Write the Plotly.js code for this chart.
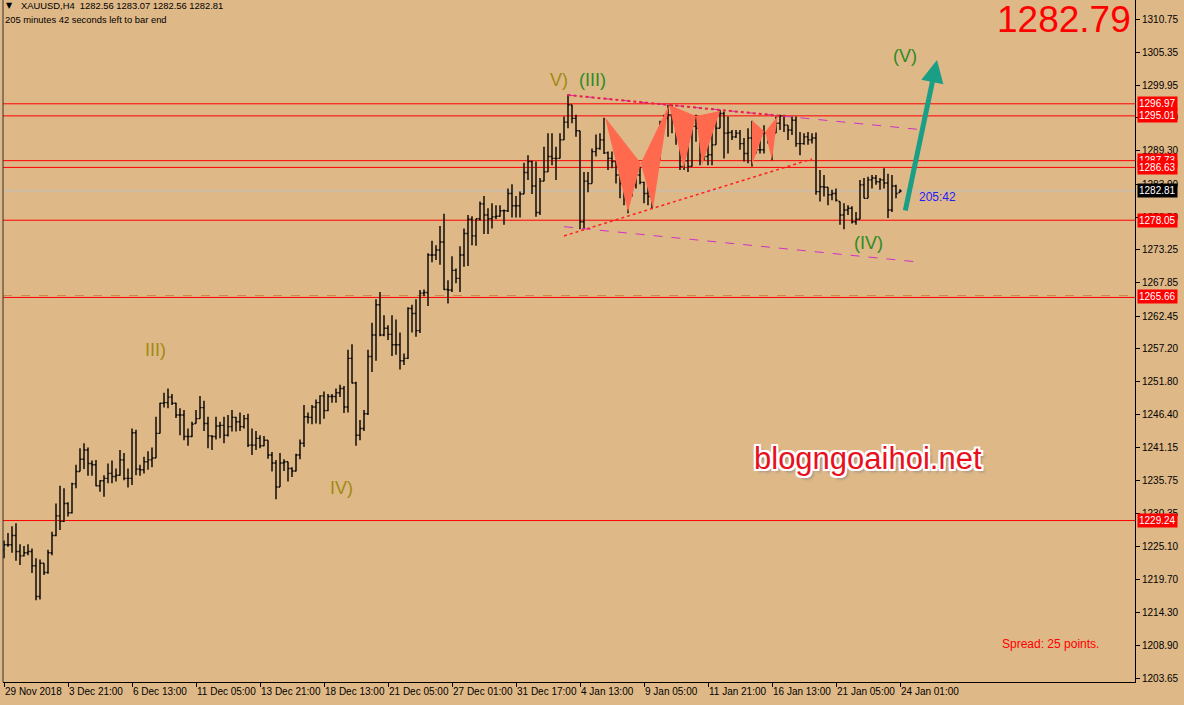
<!DOCTYPE html>
<html>
<head>
<meta charset="utf-8">
<script src="https://cdn.plot.ly/plotly-3.0.1.min.js"></script>
<style>html,body{margin:0;padding:0;background:#DEB887;}#chart{width:1184px;height:705px;}</style>
</head>
<body>
<div id="chart"></div>
<script>
// ---- OHLC data, XAUUSD H4 (bar 0 = 29 Nov 2018 05:00, last bar = 24 Jan 01:00) ----
const opens = [
1224.5,1225.3,1225.3,1226.8,1224.2,1223.5,1224.0,1224.2,1221.9,1216.9,
1222.3,1220.8,1224.0,1226.8,1230.0,1229.1,1232.0,1230.5,1235.2,1237.2,
1239.2,1240.7,1238.5,1238.3,1234.9,1235.7,1236.1,1236.9,1236.4,1236.6,
1239.1,1236.1,1236.1,1243.5,1237.6,1237.5,1238.8,1239.1,1239.4,1243.4,
1248.3,1248.4,1249.3,1248.3,1246.4,1246.4,1242.9,1242.9,1245.0,1245.8,
1247.6,1245.0,1243.0,1242.9,1244.6,1244.7,1243.1,1244.5,1246.0,1245.3,
1244.5,1245.8,1241.5,1241.5,1242.6,1241.4,1242.3,1239.9,1238.6,1234.7,
1238.6,1238.8,1237.7,1237.3,1239.9,1241.8,1246.1,1246.0,1247.7,1248.4,
1249.5,1247.1,1249.4,1249.4,1250.0,1250.7,1247.7,1255.6,1251.6,1243.1,
1244.2,1246.6,1255.9,1259.4,1264.3,1259.4,1260.5,1259.5,1257.8,1257.8,
1255.2,1255.6,1263.7,1262.9,1260.1,1266.2,1266.3,1272.4,1272.4,1273.2,
1274.5,1266.8,1266.7,1269.9,1268.6,1272.4,1275.9,1278.2,1275.5,1278.3,
1280.7,1278.9,1278.3,1278.6,1278.7,1279.6,1279.6,1282.4,1280.4,1280.4,
1282.3,1285.8,1287.6,1283.6,1279.3,1284.4,1285.9,1288.4,1288.1,1288.1,
1291.1,1294.0,1296.8,1294.6,1292.6,1277.8,1284.4,1284.0,1289.2,1289.7,
1291.1,1289.0,1288.1,1287.6,1285.4,1284.0,1282.8,1283.9,1283.8,1285.4,
1284.2,1282.4,1281.9,1288.5,1288.7,1293.8,1294.6,1295.2,1294.9,1293.0,
1286.8,1287.7,1286.8,1293.3,1293.0,1288.7,1288.4,1288.7,1290.3,1293.0,
1295.4,1292.2,1292.3,1291.6,1292.2,1290.5,1288.9,1291.4,1291.5,1289.5,
1289.5,1292.2,1291.5,1292.2,1293.8,1295.0,1293.5,1292.7,1294.3,1290.5,
1290.5,1291.6,1291.1,1291.4,1282.7,1283.5,1283.4,1282.2,1282.4,1281.1,
1278.9,1279.7,1280.0,1277.8,1278.2,1283.8,1281.6,1284.6,1284.9,1284.3,
1284.6,1284.1,1279.7,1283.6,1282.56];
const highs = [
1226.0,1227.2,1228.3,1228.8,1225.4,1225.1,1225.4,1224.7,1223.1,1222.9,
1222.3,1224.5,1227.4,1232.0,1234.9,1234.5,1232.2,1235.4,1238.3,1241.0,
1241.8,1241.1,1239.0,1239.1,1235.8,1236.6,1238.5,1239.0,1237.7,1240.7,
1240.2,1237.7,1244.2,1244.0,1238.3,1239.6,1240.5,1241.1,1246.1,1248.4,
1250.0,1250.7,1249.8,1248.4,1247.5,1247.2,1244.2,1245.3,1247.2,1249.5,
1248.7,1246.1,1243.1,1246.1,1245.3,1246.1,1246.4,1247.2,1246.1,1246.8,
1246.4,1246.6,1244.2,1243.8,1243.1,1243.0,1242.3,1240.4,1239.1,1240.2,
1239.2,1238.8,1237.9,1240.1,1242.4,1248.0,1246.8,1248.0,1248.9,1249.6,
1250.2,1249.8,1249.8,1250.7,1251.3,1251.1,1257.0,1257.9,1251.8,1245.6,
1247.2,1257.0,1261.4,1265.2,1266.4,1262.6,1261.0,1262.6,1261.9,1259.8,
1256.4,1263.9,1264.3,1265.2,1266.7,1266.8,1272.7,1274.7,1274.0,1277.1,
1279.1,1268.3,1272.2,1270.2,1273.8,1276.7,1278.9,1278.7,1278.3,1281.1,
1282.0,1280.0,1280.8,1280.5,1280.5,1279.8,1283.2,1283.9,1282.0,1282.7,
1287.4,1288.6,1287.7,1287.6,1284.9,1290.0,1292.2,1292.2,1290.0,1292.2,
1294.9,1298.5,1296.8,1295.2,1292.6,1285.9,1285.9,1289.7,1292.0,1292.2,
1294.7,1289.2,1289.2,1287.6,1285.7,1284.0,1286.0,1285.9,1285.8,1286.8,
1284.3,1283.8,1289.2,1291.4,1294.2,1295.2,1296.8,1296.8,1295.2,1293.5,
1290.8,1291.1,1294.6,1295.2,1293.0,1290.3,1290.8,1294.1,1295.2,1296.0,
1295.7,1294.9,1292.7,1292.7,1292.7,1291.4,1293.0,1294.2,1292.2,1291.6,
1293.5,1292.7,1293.0,1294.9,1295.2,1295.2,1293.5,1294.9,1294.9,1292.4,
1292.2,1292.4,1292.2,1292.3,1286.2,1285.4,1283.4,1283.0,1283.2,1281.1,
1280.8,1280.5,1280.3,1279.4,1284.6,1284.9,1285.1,1285.4,1285.4,1284.9,
1286.5,1285.6,1285.4,1283.8,1283.07];
const lows = [
1223.1,1225.0,1224.0,1222.7,1222.0,1223.4,1223.6,1220.7,1216.3,1216.4,
1220.4,1220.6,1223.6,1226.7,1227.7,1229.0,1229.9,1230.4,1234.5,1237.2,
1237.6,1236.5,1236.5,1234.8,1233.9,1233.1,1235.3,1235.3,1235.6,1236.5,
1235.8,1234.6,1235.0,1236.6,1236.5,1236.9,1237.5,1237.9,1239.4,1243.4,
1247.6,1247.5,1248.0,1245.9,1243.1,1242.3,1241.4,1242.8,1245.0,1245.8,
1243.8,1241.0,1240.7,1242.4,1242.6,1241.8,1242.9,1243.7,1243.7,1243.8,
1244.2,1241.2,1239.9,1240.7,1241.0,1241.3,1239.3,1237.2,1232.7,1234.7,
1237.3,1235.6,1236.3,1237.2,1239.2,1241.2,1245.0,1244.9,1245.0,1244.9,
1245.8,1247.0,1248.4,1248.4,1249.3,1246.7,1246.8,1251.5,1241.4,1242.3,
1243.8,1246.4,1253.4,1255.2,1259.2,1259.2,1258.6,1256.0,1256.2,1253.8,
1254.5,1255.5,1259.8,1259.1,1259.7,1265.7,1264.1,1271.2,1271.6,1270.8,
1266.7,1264.5,1266.4,1267.8,1266.4,1270.5,1270.6,1274.0,1273.9,1278.0,
1275.8,1275.8,1276.7,1278.2,1278.6,1277.3,1279.4,1278.5,1278.5,1278.5,
1282.3,1284.6,1282.3,1278.6,1278.9,1284.4,1285.9,1287.0,1284.6,1288.1,
1291.1,1293.0,1293.8,1291.6,1276.6,1276.6,1282.6,1284.0,1288.4,1289.5,
1288.8,1286.2,1286.5,1284.0,1281.6,1280.5,1279.2,1281.9,1283.2,1283.9,
1280.8,1280.5,1279.9,1285.4,1287.8,1293.3,1291.6,1292.2,1290.3,1286.2,
1286.2,1285.9,1286.8,1290.8,1287.0,1287.8,1287.0,1287.0,1290.3,1293.0,
1288.1,1288.9,1291.1,1291.4,1289.5,1287.6,1287.3,1286.8,1288.9,1288.9,
1288.9,1290.5,1287.8,1292.2,1292.7,1292.4,1291.1,1291.9,1290.0,1288.6,
1290.3,1290.3,1290.5,1282.2,1281.1,1281.9,1280.5,1281.3,1281.1,1277.3,
1276.6,1278.9,1277.5,1277.3,1278.2,1281.6,1281.6,1283.2,1283.8,1283.0,
1283.2,1278.4,1279.4,1281.6,1282.56];
const closes = [
1225.3,1225.3,1226.8,1224.2,1223.5,1224.0,1224.2,1221.9,1216.9,1222.3,
1220.8,1224.0,1226.8,1230.0,1229.1,1232.0,1230.5,1235.2,1237.2,1239.2,
1240.7,1238.5,1238.3,1234.9,1235.7,1236.1,1236.9,1236.4,1236.6,1239.1,
1236.1,1236.1,1243.5,1237.6,1237.5,1238.8,1239.1,1239.4,1243.4,1248.3,
1248.4,1249.3,1248.3,1246.4,1246.4,1242.9,1242.9,1244.9,1245.8,1247.6,
1245.0,1243.0,1242.9,1244.6,1244.7,1243.1,1244.5,1246.0,1245.3,1244.5,
1245.8,1241.5,1241.5,1242.6,1241.4,1242.3,1239.9,1238.6,1234.7,1238.6,
1238.8,1237.7,1237.3,1239.9,1241.8,1246.1,1246.0,1247.7,1248.4,1249.5,
1247.1,1249.4,1249.4,1250.0,1250.7,1247.7,1255.6,1251.6,1243.1,1244.2,
1246.6,1255.9,1259.4,1264.3,1259.4,1260.5,1259.5,1257.8,1257.8,1255.2,
1255.6,1263.7,1262.9,1260.1,1266.2,1266.3,1272.4,1272.4,1273.2,1274.5,
1266.8,1266.7,1269.9,1268.6,1272.4,1275.9,1278.2,1275.5,1278.3,1280.7,
1278.9,1278.3,1278.6,1278.7,1279.6,1279.6,1282.4,1280.4,1280.4,1282.3,
1285.8,1287.6,1283.6,1279.3,1284.4,1285.9,1288.4,1288.1,1288.1,1291.1,
1294.0,1296.8,1294.6,1292.6,1277.8,1284.4,1284.0,1289.2,1289.7,1291.1,
1289.0,1288.1,1287.6,1285.4,1284.0,1282.8,1283.9,1283.8,1285.4,1284.2,
1282.4,1281.9,1288.5,1288.7,1293.8,1294.6,1295.2,1294.9,1293.0,1286.8,
1287.7,1286.8,1293.3,1293.0,1288.7,1288.4,1288.7,1290.3,1293.0,1295.4,
1292.2,1292.3,1291.6,1292.2,1290.5,1288.9,1291.4,1291.5,1289.5,1289.5,
1292.2,1291.5,1292.2,1293.8,1295.0,1293.5,1292.7,1294.3,1290.5,1290.5,
1291.6,1291.1,1291.4,1282.7,1283.5,1283.4,1282.2,1282.4,1281.3,1278.9,
1279.7,1280.0,1277.8,1278.2,1283.8,1281.6,1284.6,1284.9,1284.3,1284.6,
1284.1,1279.7,1283.6,1282.4,1282.81];

// ---- axis ticks ----
const xTickText = ["29 Nov 2018","3 Dec 21:00","6 Dec 13:00","11 Dec 05:00","13 Dec 21:00",
  "18 Dec 13:00","21 Dec 05:00","27 Dec 01:00","31 Dec 17:00","4 Jan 13:00",
  "9 Jan 05:00","11 Jan 21:00","16 Jan 13:00","21 Jan 05:00","24 Jan 01:00"];
const xTickBars = [0,16,32,48,64,80,96,112,128,144,160,176,192,208,224];
const yTickVals = [1310.75,1305.35,1299.95,1294.70,1289.30,1283.90,1278.50,1273.25,1267.85,
  1262.45,1257.20,1251.80,1246.40,1241.15,1235.75,1230.35,1225.10,1219.70,1214.30,1208.90,1203.65];

// ---- horizontal levels ----
const redLevels = [1296.97,1295.01,1287.73,1286.63,1278.05,1265.50,1229.24];
const dashedLevel = 1265.80;
const bidPrice = 1282.81;
const priceLabels = [1296.97,1295.01,1287.73,1286.63,1278.05,1265.66,1229.24];

// ---- harmonic patterns (bar index, price) ----
const patterns = [
  {x:[150.25,156,159.2], y:[1294.8,1279.4,1287.3]},
  {x:[159.2,162.25,166.25], y:[1287.3,1279.95,1296.8]},
  {x:[166.25,169.9,173], y:[1296.8,1286.45,1295.0]},
  {x:[173,174.5,179], y:[1295.0,1287.0,1295.8]},
  {x:[187,187,190], y:[1294.3,1287.0,1292.5]},
  {x:[190.3,192,193.4], y:[1292.4,1287.8,1295.0]}
];

// ---- trend lines (bar index, price) ----
const upperLine = {x:[140.9,228.8], y:[1298.4,1292.8]};
const upperDots = {x:[140.9,196], y:[1298.4,1294.89]};
const lowerLine = {x:[140,227.9], y:[1277.0,1271.3]};
const riseLine = {x:[140,202], y:[1275.5,1288.0]};
const arrowFrom = {x:225.25, y:1279.4};
const arrowTo = {x:233.25, y:1304.1};

// ---- wave labels ----
const waveLabels = [
  {t:"V)", x:138.75, y:1300.84, c:"#a08a12"},
  {t:"(III)", x:147, y:1300.84, c:"#2e8b24"},
  {t:"III)", x:37.75, y:1256.96, c:"#a08a12"},
  {t:"IV)", x:84.25, y:1234.53, c:"#a08a12"},
  {t:"(IV)", x:216, y:1274.35, c:"#2e8b24"},
  {t:"(V)", x:225.25, y:1304.74, c:"#2e8b24"}
];

const idx = opens.map((_, i) => i);
const FONT = "Liberation Sans, Arial, sans-serif";

const traces = [];
patterns.forEach(p => traces.push({
  type:"scatter", mode:"lines", x:p.x.concat([p.x[0]]), y:p.y.concat([p.y[0]]),
  fill:"toself", fillcolor:"#ff6a4f", line:{width:0, color:"#ff6a4f"}, hoverinfo:"skip"
}));
traces.push({
  type:"ohlc", x:idx, open:opens, high:highs, low:lows, close:closes,
  increasing:{line:{color:"#000", width:1.4}}, decreasing:{line:{color:"#000", width:1.4}},
  tickwidth:0.4, hoverinfo:"skip"
});

const shapes = [];
redLevels.forEach(v => shapes.push({type:"line", xref:"paper", x0:0, x1:1, yref:"y", y0:v, y1:v,
  line:{color:"#ff0000", width:1}, layer:"below"}));
shapes.push({type:"line", xref:"paper", x0:0, x1:1, yref:"y", y0:dashedLevel, y1:dashedLevel,
  line:{color:"#c8864a", width:1, dash:"dash"}, layer:"below"});
shapes.push({type:"line", xref:"paper", x0:0, x1:1, yref:"y", y0:bidPrice, y1:bidPrice,
  line:{color:"#c0c0c0", width:1}, layer:"below"});
const seg = (l, color, dash, w) => ({type:"line", xref:"x", yref:"y", x0:l.x[0], y0:l.y[0], x1:l.x[1], y1:l.y[1],
  line:{color:color, width:w, dash:dash}});
shapes.push(seg(upperLine, "#d030c8", "dash", 1));
shapes.push(seg(upperDots, "#e8204a", "dot", 2));
shapes.push(seg(lowerLine, "#d030c8", "dash", 1));
shapes.push(seg(riseLine, "#ff2020", "dot", 1.5));
// left border
shapes.push({type:"line", xref:"paper", yref:"paper", x0:0, x1:0, y0:0, y1:1, line:{color:"#333", width:1}});

const ann = [];
priceLabels.forEach(v => ann.push({xref:"paper", x:1, xanchor:"left", xshift:2, yref:"y", y:v, yanchor:"middle",
  text:v.toFixed(2), showarrow:false, bgcolor:"#ff0000", font:{family:FONT, size:10, color:"#fff"}, borderpad:1}));
ann.push({xref:"paper", x:1, xanchor:"left", xshift:2, yref:"y", y:bidPrice, yanchor:"middle",
  text:bidPrice.toFixed(2), showarrow:false, bgcolor:"#000", font:{family:FONT, size:10, color:"#fff"}, borderpad:1});
waveLabels.forEach(w => ann.push({x:w.x, y:w.y, xref:"x", yref:"y", text:w.t, showarrow:false,
  font:{family:FONT, size:18, color:w.c}}));
// arrow
ann.push({x:arrowTo.x, y:arrowTo.y, ax:arrowFrom.x, ay:arrowFrom.y, axref:"x", ayref:"y", xref:"x", yref:"y",
  text:"", showarrow:true, arrowhead:2, arrowsize:0.9, arrowwidth:5, arrowcolor:"#1a9e86"});
// header texts
ann.push({xref:"paper", yref:"paper", x:0.001, y:0.992, xanchor:"left", yanchor:"middle", showarrow:false,
  text:"▼", font:{family:"DejaVu Sans", size:8, color:"#000"}});
ann.push({xref:"paper", yref:"paper", x:0.0142, y:0.992, xanchor:"left", yanchor:"middle", showarrow:false,
  text:"XAUUSD,H4  1282.56 1283.07 1282.56 1282.81", font:{family:FONT, size:9.4, color:"#000"}});
ann.push({xref:"paper", yref:"paper", x:0.0, y:0.972, xanchor:"left", yanchor:"middle", showarrow:false,
  text:"205 minutes 42 seconds left to bar end", font:{family:FONT, size:9.4, color:"#000"}});
ann.push({xref:"paper", yref:"paper", x:0.9985, y:0.971, xanchor:"right", yanchor:"middle", showarrow:false,
  text:"1282.79", font:{family:FONT, size:37, color:"#ff0000"}});
ann.push({xref:"paper", yref:"paper", x:0.8807, y:0.0557, xanchor:"left", yanchor:"middle", showarrow:false,
  text:"Spread: 25 points.", font:{family:FONT, size:12, color:"#ff0000"}});
ann.push({xref:"paper", yref:"paper", x:0.8074, y:0.7111, xanchor:"left", yanchor:"middle", showarrow:false,
  text:"205:42", font:{family:FONT, size:12, color:"#2020ff"}});
ann.push({xref:"paper", yref:"paper", x:0.7641, y:0.3284, xanchor:"center", yanchor:"middle", showarrow:false,
  text:"blogngoaihoi.net", font:{family:FONT, size:31, color:"#e8101c",
  shadow:"2px 0 0 #fff, -2px 0 0 #fff, 0 2px 0 #fff, 0 -2px 0 #fff, 2px 2px 0 #fff, -2px -2px 0 #fff, 2px -2px 0 #fff, -2px 2px 0 #fff, 3px 3px 3px #888"}});

const layout = {
  width:1184, height:705, margin:{l:3, r:49, t:0, b:23},
  paper_bgcolor:"#DEB887", plot_bgcolor:"#DEB887", showlegend:false,
  font:{family:FONT, size:10, color:"#000"},
  xaxis:{range:[-0.25, 282.75], showgrid:false, zeroline:false, showline:true, linecolor:"#000", linewidth:1,
    ticks:"outside", ticklen:4, tickcolor:"#000", tickvals:xTickBars, ticktext:xTickText, tickangle:0,
    ticklabelposition:"outside right", tickfont:{family:FONT, size:10, color:"#000"},
    rangeslider:{visible:false}, fixedrange:true},
  yaxis:{range:[1203.0, 1313.84], side:"right", showgrid:false, zeroline:false, showline:true, linecolor:"#000",
    linewidth:1, ticks:"outside", ticklen:4, tickcolor:"#000", tickvals:yTickVals, tickformat:".2f",
    tickfont:{family:FONT, size:10, color:"#000"}, fixedrange:true},
  shapes:shapes, annotations:ann
};
Plotly.newPlot("chart", traces, layout, {displayModeBar:false, staticPlot:true});
</script>
</body>
</html>
